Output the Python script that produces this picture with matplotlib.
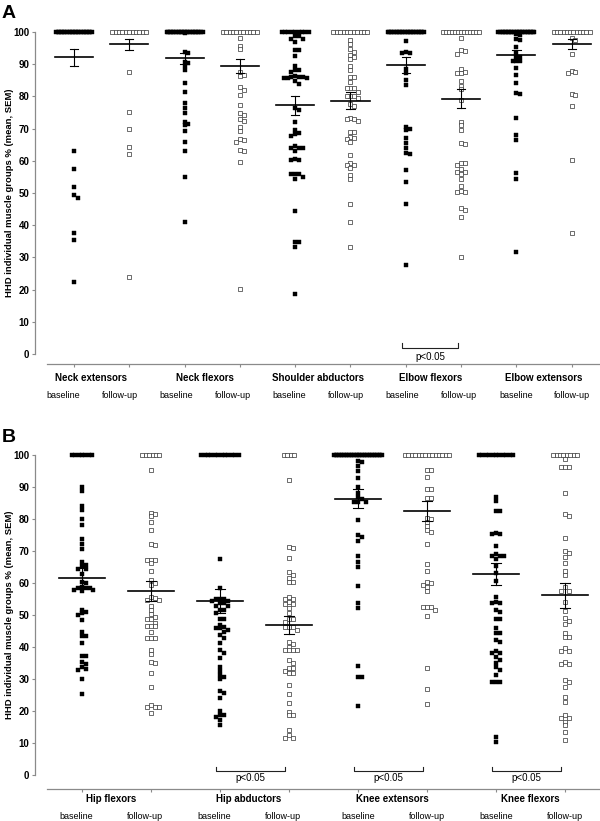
import numpy as np
import matplotlib.pyplot as plt
from matplotlib.transforms import blended_transform_factory

plt.rcParams['font.family'] = ['Liberation Sans', 'DejaVu Sans']

# ---- panel A data (values below 100; the 100 rows are counted separately) ----
a_groups = ["Neck extensors", "Neck flexors", "Shoulder abductors", "Elbow flexors", "Elbow extensors"]
neck_ext_base = [63.2, 57.4, 51.8, 49.5, 48.6, 37.7, 35.5, 22.4]
neck_ext_fu = [87.5, 75.2, 70.0, 64.2, 62.2, 23.9]
neck_flex_base = [99.6, 93.8, 93.5, 90.7, 90.3, 89.5, 88.3, 84.1, 81.4, 77.9, 76.3, 75.0, 72.1, 71.5,
                  71.0, 69.4, 65.7, 63.1, 55.0, 41.0]
neck_flex_fu = [98.2, 95.8, 94.7, 87.5, 86.5, 86.3, 82.8, 82.0, 80.5, 77.2, 74.8, 74.2, 73.0, 72.5,
                70.6, 69.2, 66.7, 66.5, 66.0, 63.3, 63.0, 59.6, 20.1]
shoulder_base = [98.8, 98.8, 97.9, 97.9, 96.8, 94.4, 94.4, 92.5, 89.5, 88.2, 88.2, 87.7, 86.4, 86.1,
                 86.1, 86.1, 85.6, 85.6, 85.6, 84.8, 84.0, 76.3, 75.8, 72.2, 69.6, 68.7, 68.3, 67.8,
                 64.7, 63.9, 63.9, 63.9, 63.1, 60.6, 60.4, 60.2, 55.9, 55.9, 55.9, 55.1, 54.3, 44.5,
                 34.9, 34.9, 33.3, 18.6]
shoulder_fu = [97.5, 96.3, 94.7, 93.9, 92.9, 92.2, 91.6, 89.5, 88.2, 86.1, 85.9, 84.5, 82.5, 82.5,
               82.5, 81.5, 80.2, 80.2, 80.2, 79.4, 77.5, 77.1, 73.3, 73.0, 73.0, 72.3, 69.1, 69.1,
               67.5, 67.1, 66.8, 66.0, 61.9, 59.3, 58.8, 58.8, 57.9, 55.5, 54.4, 46.6, 41.1, 33.3]
elbow_flex_base = [97.1, 93.7, 93.6, 93.4, 88.5, 87.2, 85.2, 83.5, 70.6, 69.8, 69.5, 67.2, 65.6,
                   64.1, 62.4, 62.0, 57.1, 53.5, 46.5, 27.8]
elbow_flex_fu = [98.3, 94.3, 94.0, 93.3, 88.6, 87.7, 87.4, 87.4, 84.9, 83.3, 82.2, 78.9, 72.2, 71.1,
                 69.6, 65.6, 65.2, 59.4, 59.4, 58.7, 57.6, 56.6, 56.6, 55.9, 54.5, 52.1, 50.6, 50.4,
                 50.4, 45.2, 44.7, 42.6, 30.0]
elbow_ext_base = [99.4, 99.2, 97.8, 97.6, 95.5, 93.5, 92.2, 92.2, 90.9, 90.9, 90.9, 88.8, 86.7,
                  84.1, 81.2, 80.7, 73.2, 68.0, 66.5, 56.3, 54.5, 31.7]
elbow_ext_fu = [98.1, 97.6, 93.2, 88.0, 87.7, 87.4, 80.7, 80.3, 77.1, 60.2, 37.7]
a_full = [24, 11, 24, 11, 9, 11, 24, 13, 24, 12]
a_mean = [92.1, 96.2, 91.8, 89.4, 77.2, 78.7, 89.8, 79.3, 92.8, 96.3]
a_sem = [2.7, 1.7, 1.8, 2.1, 2.9, 2.6, 2.4, 2.9, 1.7, 1.5]
a_sig = [(6, 7)]

# ---- panel B data ----
b_groups = ["Hip flexors", "Hip abductors", "Knee extensors", "Knee flexors"]
hip_flex_base = [90.1, 88.9, 84.1, 82.7, 80.0, 78.0, 73.7, 72.3, 70.6, 66.5, 65.5, 65.2, 64.5, 64.3,
                 62.8, 60.4, 59.9, 58.8, 58.3, 58.3, 58.3, 57.9, 57.9, 57.5, 51.6, 51.0, 50.5, 50.0,
                 48.4, 44.8, 43.4, 43.4, 41.1, 37.3, 37.3, 35.4, 34.7, 33.6, 33.0, 32.8, 29.9, 25.2]
hip_flex_fu = [95.3, 82.0, 81.5, 80.8, 79.0, 76.6, 72.2, 71.9, 67.3, 67.3, 67.3, 66.2, 63.6, 61.0,
               60.1, 59.5, 55.5, 55.2, 54.7, 54.7, 52.9, 51.6, 50.3, 49.5, 48.6, 48.6, 47.6, 46.5,
               46.5, 46.5, 44.8, 42.7, 42.7, 42.7, 39.1, 37.7, 35.2, 34.9, 31.9, 27.6, 21.9, 21.3,
               21.3, 21.3, 19.4]
hip_abd_base = [67.5, 58.5, 55.1, 55.1, 55.1, 54.4, 54.4, 53.7, 53.7, 52.8, 52.8, 51.5, 51.5, 50.7,
                48.8, 48.8, 47.0, 46.2, 46.0, 45.8, 45.2, 44.8, 43.7, 42.8, 41.1, 39.1, 38.2, 36.5,
                33.8, 32.6, 31.2, 30.6, 29.9, 26.4, 25.5, 24.0, 20.1, 18.7, 18.7, 18.2, 17.2, 15.6]
hip_abd_fu = [92.2, 71.3, 70.8, 67.7, 63.5, 62.5, 61.7, 60.4, 60.4, 55.7, 54.9, 54.9, 54.0, 53.3,
              53.3, 52.1, 50.7, 48.7, 48.7, 47.9, 46.2, 46.2, 46.2, 45.3, 41.6, 40.8, 40.1, 39.0,
              39.0, 39.0, 39.0, 35.9, 35.1, 33.3, 33.3, 32.6, 31.8, 31.8, 28.1, 25.3, 22.4, 19.8,
              18.7, 18.7, 14.1, 12.5, 11.6, 11.6]
knee_ext_base = [98.1, 97.7, 96.6, 95.0, 92.7, 90.1, 88.2, 86.9, 86.4, 85.4, 85.4, 85.4, 79.8, 74.9,
                 74.4, 73.2, 68.4, 66.7, 65.1, 59.1, 53.9, 52.1, 34.2, 30.5, 30.5, 21.7]
knee_ext_fu = [95.3, 95.3, 93.0, 89.4, 89.4, 86.7, 86.5, 80.4, 79.9, 79.1, 77.8, 76.5, 76.0, 72.2,
               65.8, 63.7, 60.2, 60.0, 59.5, 58.8, 57.6, 52.5, 52.5, 52.5, 51.7, 49.8, 33.3, 26.9,
               22.2]
knee_flex_base = [87.0, 85.7, 82.6, 82.6, 75.5, 75.2, 75.2, 71.6, 69.2, 68.4, 68.4, 68.4, 67.5,
                  65.2, 63.2, 60.5, 55.6, 54.2, 53.6, 53.6, 51.6, 51.0, 48.9, 48.9, 45.9, 44.4,
                  44.4, 42.2, 41.7, 38.8, 38.0, 38.0, 36.9, 35.9, 34.9, 33.8, 32.8, 31.2, 29.2,
                  29.2, 29.2, 12.0, 10.4]
knee_flex_fu = [98.6, 96.4, 96.4, 96.4, 88.0, 81.5, 80.8, 74.2, 70.1, 69.3, 68.2, 66.4, 63.8, 62.6,
                58.6, 57.6, 57.6, 54.2, 51.4, 49.1, 48.2, 47.2, 44.3, 43.2, 43.2, 39.6, 38.8, 38.8,
                35.4, 34.7, 34.7, 29.7, 29.2, 27.6, 24.5, 22.9, 18.7, 17.7, 17.7, 16.7, 15.6, 13.3,
                11.0]
b_full = [7, 6, 12, 4, 30, 14, 11, 8]
b_mean = [61.7, 57.6, 54.3, 46.9, 86.4, 82.5, 62.9, 56.1]
b_sem = [3.0, 3.1, 3.7, 2.9, 3.0, 3.0, 3.4, 3.8]
b_sig = [(2, 3), (4, 5), (6, 7)]

W, H = 600, 821
GRAY = '#8a8a8a'
YLAB = "HHD individual muscle groups % (mean, SEM)"

fig = plt.figure(figsize=(6, 8.21), dpi=100)


def swarm(vals, xpx, ypx, step=3.8, size=3.3):
    placed = []
    offs = []
    for v in vals:
        y = v * ypx
        for j in [0, 1, -1, 2, -2, 3, -3, 4, -4, 5, -5]:
            x = j * step
            if all(abs(x - px) >= size or abs(y - py) >= size for px, py in placed):
                break
        placed.append((x, y))
        offs.append(x / xpx)
    return offs


def panel(top, bottom, xlim, ylim, xstart, columns, full, mean, sem, sig, groups,
          lab_x, lab_py, grp_py, sig_y, p_py, maxw, hw, letter, letter_py):
    ax = fig.add_axes([35 / W, 1 - bottom / H, 565 / W, (bottom - top) / H])
    ax.set_xlim(*xlim)
    ax.set_ylim(*ylim)
    xpx = 565 / (xlim[1] - xlim[0])
    ypx = (bottom - top) / (ylim[1] - ylim[0])

    for i, vals in enumerate(columns):
        base = i % 2 == 0
        style = dict(marker='s', ms=2.5, ls='none')
        if base:
            style.update(mfc='black', mec='black', mew=0.3)
        else:
            style.update(mfc='white', mec='#333333', mew=0.5)
        n = full[i]
        w = min((n - 1) * 3.4, maxw)
        xs = i + np.linspace(-w / 2, w / 2, n) / xpx
        ax.plot(xs, [100] * n, **style, clip_on=False)
        ax.plot(i + np.array(swarm(vals, xpx, ypx)), vals, **style)
        m, s = mean[i], sem[i]
        ax.plot([i - hw, i + hw], [m, m], color='black', lw=1.2, zorder=4)
        ax.plot([i, i], [m - s, m + s], color='black', lw=0.8, zorder=4)
        for e in (m - s, m + s):
            ax.plot([i - 0.075, i + 0.075], [e, e], color='black', lw=0.8, zorder=4)

    for side in ('top', 'right'):
        ax.spines[side].set_visible(False)
    ax.spines['left'].set_bounds(0, 100)
    ax.spines['bottom'].set_bounds(xstart, xlim[1])
    for side in ('left', 'bottom'):
        ax.spines[side].set_color(GRAY)
        ax.spines[side].set_linewidth(0.9)
    ax.set_yticks(range(0, 101, 10))
    ax.set_xticks(range(len(columns)))
    ax.tick_params(axis='y', direction='out', length=2.5, width=0.8, color=GRAY,
                   labelsize=7, pad=1.5)
    ax.tick_params(axis='x', direction='out', length=2, width=0.8, color=GRAY,
                   labelbottom=False)
    for lab in ax.get_yticklabels():
        lab.set_fontweight('bold')
    ax.set_ylabel(YLAB, fontsize=6.8, fontweight='bold')
    ax.yaxis.set_label_coords(-0.037, (50 - ylim[0]) / (ylim[1] - ylim[0]))

    tr = blended_transform_factory(ax.transData, fig.transFigure)
    for i, x in enumerate(lab_x):
        ax.text(x, 1 - lab_py / H, 'baseline' if i % 2 == 0 else 'follow-up',
                transform=tr, ha='center', va='center', fontsize=6.5)
    for g, name in enumerate(groups):
        ax.text((lab_x[2 * g] + lab_x[2 * g + 1]) / 2, 1 - grp_py / H, name,
                transform=tr, ha='center', va='center', fontsize=7, fontweight='bold')

    for a, b in sig:
        xa, xb = a - 0.06, b - 0.06
        ax.plot([xa, xa, xb, xb], [sig_y[1], sig_y[0], sig_y[0], sig_y[1]],
                color='#222222', lw=0.8, clip_on=False)
        ax.text((xa + xb) / 2, 1 - p_py / H, 'p<0.05', transform=tr,
                ha='center', va='center', fontsize=7)

    fig.text(2 / W, 1 - letter_py / H, letter, fontsize=14, fontweight='bold',
             ha='left', va='center')
    return ax


a_cols = [neck_ext_base, neck_ext_fu, neck_flex_base, neck_flex_fu, shoulder_base, shoulder_fu,
          elbow_flex_base, elbow_flex_fu, elbow_ext_base, elbow_ext_fu]
b_cols = [hip_flex_base, hip_flex_fu, hip_abd_base, hip_abd_fu, knee_ext_base, knee_ext_fu,
          knee_flex_base, knee_flex_fu]

panel(27.2, 364, (-0.705, 9.512), (-3.1, 101.5), -0.488, a_cols, a_full, a_mean, a_sem,
      a_sig, a_groups, [-0.199 + 1.0235 * i for i in range(10)], 395.5, 378,
      (1.9, 3.4), 357, 36, 0.345, 'A', 13)

panel(450.2, 789, (-0.681, 7.507), (-4.375, 101.5), -0.507, b_cols, b_full, b_mean, b_sem,
      b_sig, b_groups, [i - 0.08 if i < 4 else i for i in range(8)], 816.5, 799,
      (1.25, 2.6), 778, 48, 0.34, 'B', 438)

fig.savefig('out.png', dpi=100)
